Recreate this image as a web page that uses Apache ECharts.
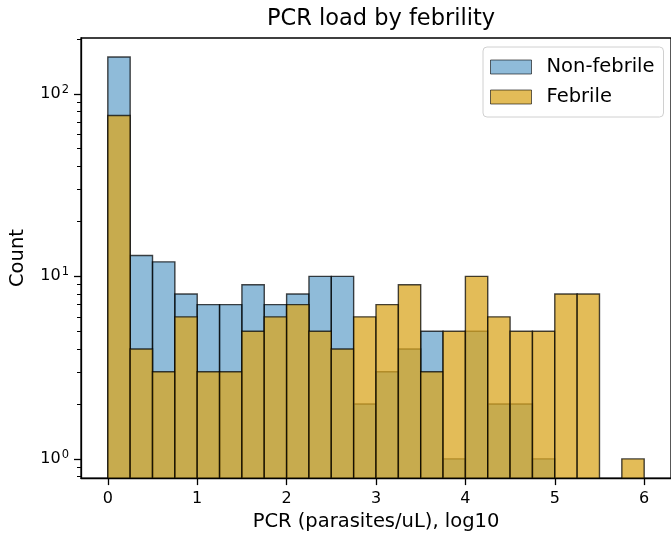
<!DOCTYPE html>
<html>
<head>
<meta charset="utf-8">
<script src="https://cdn.jsdelivr.net/npm/echarts@6/dist/echarts.min.js"></script>
<style>
  html, body { margin: 0; padding: 0; background: #fff; }
  #chart { width: 671px; height: 537px; }
</style>
</head>
<body>
<div id="chart"></div>
<script>
// bin edges (log10 parasites/uL)
const binStarts = [0, 0.25, 0.5, 0.75, 1, 1.25, 1.5, 1.75, 2, 2.25, 2.5, 2.75,
                   3, 3.25, 3.5, 3.75, 4, 4.25, 4.5, 4.75, 5, 5.25, 5.5, 5.75];
const binEnds = [0.25, 0.5, 0.75, 1, 1.25, 1.5, 1.75, 2, 2.25, 2.5, 2.75, 3,
                 3.25, 3.5, 3.75, 4, 4.25, 4.5, 4.75, 5, 5.25, 5.5, 5.75, 6];
// counts per bin
const nonFebrile = [159, 13, 12, 8, 7, 7, 9, 7, 8, 10, 10, 2,
                    3, 4, 5, 1, 5, 2, 2, 1, 0, 0, 0, 0];
const febrile = [76, 4, 3, 6, 3, 3, 5, 6, 7, 5, 4, 6,
                 7, 9, 3, 5, 10, 6, 5, 5, 8, 8, 0, 1];

const xTicks = [0, 1, 2, 3, 4, 5, 6];
const yTicks = [1, 10, 100];
const yMinorTicks = [0.8, 0.9, 2, 3, 4, 5, 6, 7, 8, 9, 20, 30, 40, 50, 60, 70, 80, 90, 200];

function toBins(counts) {
  const out = [];
  counts.forEach((c, i) => {
    if (c > 0) out.push([binStarts[i], binEnds[i], c]);
  });
  return out;
}

function renderBin(params, api) {
  const count = api.value(2);
  const p0 = api.coord([api.value(0), count]);
  const p1 = api.coord([api.value(1), count]);
  const base = params.coordSys.y + params.coordSys.height;
  const st = api.style();
  return {
    type: 'rect',
    shape: { x: p0[0], y: p0[1], width: p1[0] - p0[0], height: base - p0[1] },
    style: { fill: st.fill, stroke: 'rgba(0,0,0,0.72)', lineWidth: 1.4 }
  };
}

const chart = echarts.init(document.getElementById('chart'));
const FONT = 'DejaVu Sans';

chart.setOption({
  animation: false,
  textStyle: { fontFamily: FONT, color: '#000' },
  title: {
    text: 'PCR load by febrility',
    left: 376,
    top: 3,
    textAlign: 'center',
    textStyle: { fontFamily: FONT, fontSize: 22.5, fontWeight: 'normal', color: '#000' }
  },
  legend: {
    orient: 'vertical',
    left: 483,
    top: 47,
    padding: [10, 9, 10, 7],
    icon: 'rect',
    itemWidth: 41,
    itemHeight: 14,
    itemGap: 10,
    backgroundColor: 'rgba(255,255,255,0.8)',
    borderColor: '#d0d0d0',
    borderWidth: 1,
    borderRadius: 4,
    itemStyle: { borderWidth: 1, borderColor: 'rgba(0,0,0,0.6)' },
    textStyle: { fontFamily: FONT, fontSize: 19.5, color: '#000', padding: [0, 0, 0, 10] },
    data: ['Non-febrile', 'Febrile']
  },
  grid: {
    left: 80,
    top: 38,
    width: 593,
    height: 441,
    show: true,
    borderColor: '#000',
    borderWidth: 1.3,
    backgroundColor: 'transparent'
  },
  xAxis: {
    type: 'value',
    min: -0.3,
    max: 6.3,
    name: 'PCR (parasites/uL), log10',
    nameLocation: 'middle',
    nameGap: 32,
    nameTextStyle: { fontFamily: FONT, fontSize: 19.5, color: '#000' },
    splitLine: { show: false },
    axisLine: { onZero: false, lineStyle: { color: '#000', width: 1.3 } },
    axisTick: { customValues: xTicks, length: 7, lineStyle: { color: '#000', width: 1.3 } },
    axisLabel: { customValues: xTicks, margin: 13, fontFamily: FONT, fontSize: 16, color: '#000' }
  },
  yAxis: [
    {
      type: 'log',
      logBase: 10,
      min: 0.785,
      max: 202,
      name: 'Count',
      nameLocation: 'middle',
      nameGap: 53,
      nameTextStyle: { fontFamily: FONT, fontSize: 19.5, color: '#000' },
      splitLine: { show: false },
      axisLine: { show: true, onZero: false, lineStyle: { color: '#000', width: 1.3 } },
      axisTick: { customValues: yTicks, length: 7, lineStyle: { color: '#000', width: 1.3 } },
      axisLabel: {
        customValues: yTicks,
        margin: 12,
        color: '#000',
        formatter: v => '{b|10}{s|' + Math.round(Math.log10(v)) + '}',
        rich: {
          b: { fontFamily: FONT, fontSize: 16, color: '#000' },
          s: { fontFamily: FONT, fontSize: 11.5, color: '#000', padding: [0, 0, 8, 1] }
        }
      }
    },
    {
      type: 'log',
      logBase: 10,
      min: 0.785,
      max: 202,
      position: 'left',
      splitLine: { show: false },
      axisLine: { show: false, onZero: false },
      axisTick: { customValues: yMinorTicks, length: 4, lineStyle: { color: '#000', width: 1 } },
      axisLabel: { show: false }
    }
  ],
  series: [
    {
      name: 'Non-febrile',
      type: 'custom',
      renderItem: renderBin,
      itemStyle: { color: 'rgba(31,119,180,0.5)' },
      encode: { x: [0, 1], y: 2 },
      data: toBins(nonFebrile)
    },
    {
      name: 'Febrile',
      type: 'custom',
      renderItem: renderBin,
      itemStyle: { color: 'rgba(218,165,32,0.75)' },
      encode: { x: [0, 1], y: 2 },
      data: toBins(febrile)
    }
  ]
});
</script>
</body>
</html>
